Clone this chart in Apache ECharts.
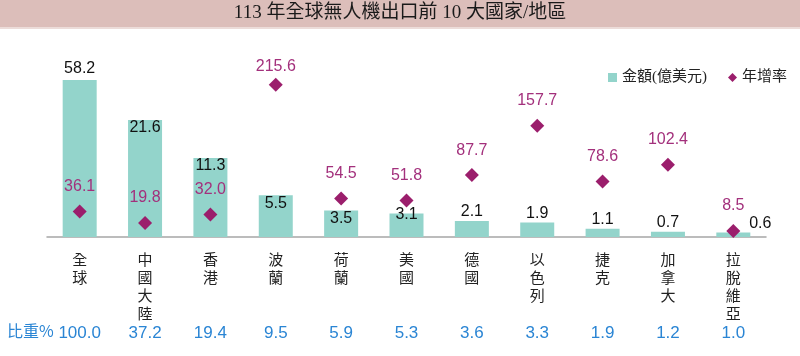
<!DOCTYPE html>
<html><head><meta charset="utf-8">
<script src="https://cdn.jsdelivr.net/npm/echarts@6.0.0/dist/echarts.min.js"></script>
<style>html,body{margin:0;padding:0;background:#fff}#c{width:800px;height:356px}</style>
</head><body><div id="c"></div>
<script>
const titleText = '113 年全球無人機出口前 10 大國家/地區';
const categories = ['全球','中國大陸','香港','波蘭','荷蘭','美國','德國','以色列','捷克','加拿大','拉脫維亞'];
const amounts = [58.2,21.6,11.3,5.5,3.5,3.1,2.1,1.9,1.1,0.7,0.6];
const growth = [36.1,19.8,32.0,215.6,54.5,51.8,87.7,157.7,78.6,102.4,8.5];
const shares = ['100.0','37.2','19.4','9.5','5.9','5.3','3.6','3.3','1.9','1.2','1.0'];
const amountName = '金額(億美元)';
const growthName = '年增率';
const shareName = '比重%';

const SANS = "'Liberation Sans', Arial, 'Noto Sans CJK TC', sans-serif";
const SERIF = "'Liberation Serif', 'Noto Sans CJK TC', serif";
const CJK = "'Noto Sans CJK TC', sans-serif";

function barLabel(i) {
  if (i === 0) return { position: 'top', distance: 3 };
  if (i >= 1 && i <= 4) return { position: 'insideTop', distance: 0 };
  if (i === 5) return { position: 'top', distance: -9 };
  if (i === amounts.length - 1) return { position: 'top', distance: 1, offset: [27, 0] };
  return { position: 'top', distance: 1 };
}
function growthLabel(v, i) {
  return { value: v, label: { distance: i === 3 ? 3 : 10 } };
}

const chart = echarts.init(document.getElementById('c'), null, { renderer: 'canvas' });
chart.setOption({
  animation: false,
  backgroundColor: '#fff',
  graphic: [
    { type: 'rect', left: 0, top: 0, shape: { width: 800, height: 27 }, style: { fill: '#dcbeba' }, z: 0 },
    { type: 'rect', left: 0, top: 27, shape: { width: 800, height: 2 }, style: { fill: '#ecdcd9' }, z: 0 },
    { type: 'text', left: 7, top: 323, style: { text: shareName, fontFamily: CJK, fontSize: 16, fill: '#2a85d4' } }
  ],
  title: {
    text: titleText, left: 'center', top: 4, padding: 0,
    textStyle: { fontFamily: SERIF, fontSize: 19, fontWeight: 'normal', color: '#1a1a1a' }
  },
  legend: {
    right: 8, top: 65, itemWidth: 9, itemHeight: 9, itemGap: 21,
    textStyle: { fontFamily: SERIF, fontSize: 15, color: '#222' },
    data: [ { name: amountName, icon: 'rect' }, { name: growthName, icon: 'diamond' } ]
  },
  grid: { left: 47, right: 34, top: 57, bottom: 119 },
  xAxis: [
    {
      type: 'category', data: categories,
      axisLine: { lineStyle: { color: '#a6a6a6', width: 1.5 } },
      axisTick: { show: false },
      axisLabel: {
        interval: 0, margin: 13, fontFamily: CJK, fontSize: 15, lineHeight: 18, color: '#222',
        formatter: v => v.split('').join('\n'), verticalAlign: 'top'
      }
    },
    {
      type: 'category', data: shares, position: 'bottom', offset: 96,
      axisLine: { show: false }, axisTick: { show: false },
      axisLabel: { interval: 0, margin: 0, verticalAlign: 'middle', fontFamily: SANS, fontSize: 17, color: '#2a85d4' }
    }
  ],
  yAxis: [
    {
      type: 'value', min: 0, max: 61.22, show: false, splitLine: { show: false },
      breaks: [
        { start: 6, end: 10, gap: 3.095 },
        { start: 13, end: 20, gap: 1.7 },
        { start: 23, end: 56, gap: 1.66 }
      ],
      breakArea: { show: false }
    },
    { type: 'value', min: 0, max: 255, show: false, splitLine: { show: false } }
  ],
  series: [
    {
      name: amountName, type: 'bar', barWidth: 34, xAxisIndex: 0, yAxisIndex: 0,
      itemStyle: { color: '#93d4cb' },
      label: { show: true, fontFamily: SANS, fontSize: 16, color: '#111', formatter: p => p.value.toFixed(1) },
      data: amounts.map((v, i) => ({ value: v, label: barLabel(i) })),
      z: 2
    },
    {
      name: growthName, type: 'scatter', xAxisIndex: 0, yAxisIndex: 1,
      symbol: 'diamond', symbolSize: 14,
      itemStyle: { color: '#9b1e6c', opacity: 1 },
      label: { show: true, position: 'top', distance: 10, fontFamily: SANS, fontSize: 16, color: '#a3307c', formatter: p => p.value.toFixed(1) },
      data: growth.map(growthLabel),
      z: 3
    }
  ]
});
</script>
</body></html>
